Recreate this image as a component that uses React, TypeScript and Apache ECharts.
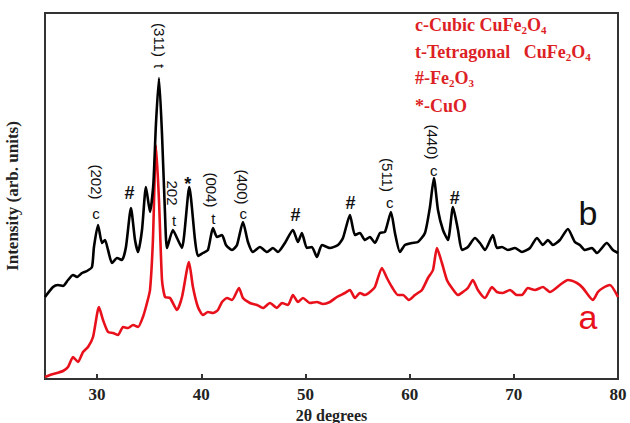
import React, { useEffect, useRef } from "react";
import * as echarts from "echarts";

// Pattern b (black) : 2θ and intensity (arb.)
const bX = [25.0, 25.77, 26.25, 26.73, 27.21, 27.69, 28.07, 28.55, 29.03, 29.51, 29.7, 30.09, 30.47, 30.76, 31.05, 31.43, 31.91, 32.39, 32.77, 33.25, 33.64, 33.93, 34.31, 34.69, 35.08, 35.4, 35.65, 35.94, 36.23, 36.52, 36.71, 37.28, 37.67, 38.15, 38.85, 39.4, 39.68, 40.16, 40.64, 41.12, 41.51, 41.99, 42.37, 42.95, 43.43, 44.0, 44.48, 44.96, 45.63, 46.31, 46.88, 47.36, 48.03, 48.8, 49.28, 49.66, 50.14, 50.62, 51.1, 51.58, 52.35, 53.12, 53.6, 54.27, 54.75, 55.23, 55.71, 56.19, 56.67, 57.15, 57.63, 58.21, 58.59, 59.07, 59.55, 60.22, 60.8, 61.47, 61.95, 62.33, 62.72, 63.2, 63.68, 64.16, 64.64, 65.02, 65.59, 66.27, 66.75, 67.23, 67.99, 68.38, 68.86, 69.43, 70.11, 70.78, 71.55, 72.22, 72.79, 73.27, 73.75, 74.42, 75.19, 75.86, 76.34, 76.82, 77.5, 77.97, 78.93, 79.51, 80.0];
const bY = [82, 92, 94, 93, 99, 104, 102, 106, 108, 112, 132, 154, 136, 139, 129, 116, 121, 119, 132, 171, 139, 127, 149, 192, 167, 195, 255, 301, 245, 165, 131, 149, 141, 131, 192, 139, 123, 126, 129, 151, 142, 144, 134, 129, 134, 157, 137, 127, 132, 127, 131, 127, 136, 149, 137, 146, 131, 132, 122, 134, 131, 134, 141, 164, 144, 146, 139, 142, 136, 146, 147, 167, 146, 127, 134, 136, 137, 146, 172, 201, 169, 149, 139, 172, 149, 129, 132, 141, 136, 129, 144, 131, 132, 129, 131, 127, 131, 141, 134, 139, 134, 139, 150, 137, 134, 129, 131, 126, 136, 129, 126];

// Pattern a (red)
const aX = [25.0, 25.48, 26.15, 26.73, 27.21, 27.69, 28.17, 28.65, 29.13, 29.61, 30.18, 30.57, 31.05, 31.53, 32.01, 32.49, 32.97, 33.45, 33.93, 34.4, 34.79, 35.08, 35.36, 35.65, 35.94, 36.23, 36.52, 37.0, 37.67, 38.15, 38.82, 39.2, 39.68, 40.16, 40.64, 41.12, 41.6, 41.99, 42.47, 42.95, 43.62, 44.0, 44.67, 45.35, 45.92, 46.59, 47.26, 47.74, 48.32, 48.8, 49.28, 49.76, 50.43, 51.1, 51.68, 52.35, 53.02, 53.79, 54.27, 54.75, 55.23, 55.71, 56.19, 56.67, 57.34, 57.82, 58.3, 58.88, 59.36, 59.93, 60.51, 61.18, 61.76, 62.24, 62.62, 63.1, 63.58, 64.06, 64.64, 65.11, 65.59, 66.07, 66.55, 67.23, 67.9, 68.38, 68.95, 69.63, 70.3, 70.78, 71.35, 72.03, 72.79, 73.46, 74.42, 75.19, 76.06, 76.63, 77.59, 78.07, 78.55, 79.22, 80.0];
const aY = [2, 4, 6, 8, 12, 22, 17, 27, 32, 42, 72, 59, 47, 46, 44, 52, 51, 54, 52, 62, 76, 89, 139, 234, 179, 99, 82, 81, 69, 82, 117, 92, 72, 64, 67, 66, 69, 77, 81, 79, 91, 81, 76, 74, 71, 76, 71, 76, 74, 84, 77, 81, 76, 77, 75, 77, 82, 86, 89, 81, 86, 84, 87, 92, 111, 101, 92, 84, 84, 79, 84, 89, 101, 109, 131, 116, 99, 91, 84, 87, 91, 99, 89, 81, 92, 87, 86, 89, 84, 84, 91, 89, 92, 87, 94, 99, 96, 91, 79, 87, 91, 94, 82];

const xTicks = [30, 40, 50, 60, 70, 80];

// Peak annotations (data coordinates)
const peakLabels = [
  { x: 29.9, y: 197, text: "(202)", rot: true },
  { x: 29.9, y: 166, text: "c", rot: false },
  { x: 33.1, y: 186, text: "#", rot: false, sym: true },
  { x: 35.96, y: 339, text: "(311)", rot: true },
  { x: 35.96, y: 313, text: "t", rot: true },
  { x: 37.2, y: 186, text: "202", rot: true },
  { x: 37.4, y: 159, text: "t", rot: false },
  { x: 38.7, y: 195, text: "*", rot: false, sym: true },
  { x: 40.96, y: 189, text: "(004)", rot: true },
  { x: 41.15, y: 161, text: "t", rot: false },
  { x: 43.94, y: 192, text: "(400)", rot: true },
  { x: 44.04, y: 166, text: "c", rot: false },
  { x: 49.04, y: 164, text: "#", rot: false, sym: true },
  { x: 54.33, y: 176, text: "#", rot: false, sym: true },
  { x: 57.88, y: 204, text: "(511)", rot: true },
  { x: 58.08, y: 177, text: "c", rot: false },
  { x: 62.21, y: 237, text: "(440)", rot: true },
  { x: 62.31, y: 209, text: "c", rot: false },
  { x: 64.33, y: 181, text: "#", rot: false, sym: true },
];

const curveLabels = [
  { x: 77.12, y: 166, text: "b", color: "#111" },
  { x: 77.12, y: 62, text: "a", color: "#e8101a" },
];

const legendLines = [
  "c-Cubic CuFe{s|2}O{s|4}",
  "t-Tetragonal   CuFe{s|2}O{s|4}",
  "#-Fe{s|2}O{s|3}",
  "*-CuO",
];

export default function App() {
  const ref = useRef<HTMLDivElement>(null);
  useEffect(() => {
    if (!ref.current) return;
    const chart = echarts.init(ref.current, null, { renderer: "svg" });
    const serif = "'Liberation Serif', 'Times New Roman', serif";
    const sans = "'Liberation Sans', Arial, sans-serif";
    chart.setOption({
      animation: false,
      backgroundColor: "#fff",
      grid: {
        left: 45,
        right: 12,
        top: 13,
        bottom: 44,
        outerBoundsMode: "none",
        containLabel: false,
        show: true,
        borderColor: "#333",
        borderWidth: 2,
      },
      xAxis: {
        type: "value",
        min: 25,
        max: 80,
        name: "2θ degrees",
        nameLocation: "middle",
        nameGap: 21,
        nameTextStyle: { fontFamily: serif, fontWeight: "bold", fontSize: 16, color: "#222" },
        axisLine: { show: true, onZero: false, lineStyle: { color: "#333", width: 2 } },
        axisTick: { show: true, inside: true, length: 5, customValues: xTicks, lineStyle: { color: "#333", width: 2 } },
        axisLabel: { customValues: xTicks, margin: 7, fontFamily: serif, fontWeight: "bold", fontSize: 17, color: "#222" },
        splitLine: { show: false },
      },
      yAxis: {
        type: "value",
        min: 0,
        max: 366,
        name: "Intensity (arb. units)",
        nameLocation: "middle",
        nameGap: 24,
        nameRotate: 90,
        nameTextStyle: { fontFamily: serif, fontWeight: "bold", fontSize: 17, color: "#222" },
        axisLine: { show: true, lineStyle: { color: "#333", width: 2 } },
        axisTick: { show: false },
        axisLabel: { show: false },
        splitLine: { show: false },
      },
      series: [
        {
          name: "b",
          type: "line",
          data: bX.map((x, i) => [x, bY[i]]),
          showSymbol: false,
          smooth: 0.2,
          lineStyle: { color: "#000", width: 2.6 },
          z: 3,
        },
        {
          name: "a",
          type: "line",
          data: aX.map((x, i) => [x, aY[i]]),
          showSymbol: false,
          smooth: 0.2,
          lineStyle: { color: "#e8101a", width: 2.6 },
          z: 2,
        },
      ],
    });

    const graphics: any[] = [];
    peakLabels.forEach((p) => {
      const [px, py] = chart.convertToPixel({ gridIndex: 0 }, [p.x, p.y]) as number[];
      graphics.push({
        type: "text",
        x: px,
        y: py,
        rotation: p.rot ? -Math.PI / 2 : 0,
        style: {
          text: p.text,
          fill: "#111",
          font: p.sym ? `bold 18px ${sans}` : `15px ${sans}`,
          align: "center",
          verticalAlign: "middle",
        },
        z: 10,
      });
    });
    curveLabels.forEach((c) => {
      const [px, py] = chart.convertToPixel({ gridIndex: 0 }, [c.x, c.y]) as number[];
      graphics.push({
        type: "text",
        x: px,
        y: py,
        style: {
          text: c.text,
          fill: c.color,
          font: `34px ${sans}`,
          align: "center",
          verticalAlign: "middle",
        },
        z: 10,
      });
    });
    const legendTops = [14, 41, 67, 95];
    legendLines.forEach((t, i) => {
      graphics.push({
        type: "text",
        left: 415,
        top: legendTops[i],
        style: {
          text: t,
          fill: "#dd1f26",
          fontFamily: serif,
          fontWeight: "bold",
          fontSize: 18,
          lineHeight: 21,
          rich: {
            s: { fontFamily: serif, fontWeight: "bold", fontSize: 11, lineHeight: 11, verticalAlign: "bottom", fill: "#dd1f26" },
          },
        },
        z: 10,
      });
    });
    chart.setOption({ graphic: graphics });
    return () => chart.dispose();
  }, []);
  return (
    <div
      ref={ref}
      style={{ position: "fixed", left: 0, top: 0, width: 630, height: 423, background: "#fff" }}
    />
  );
}
